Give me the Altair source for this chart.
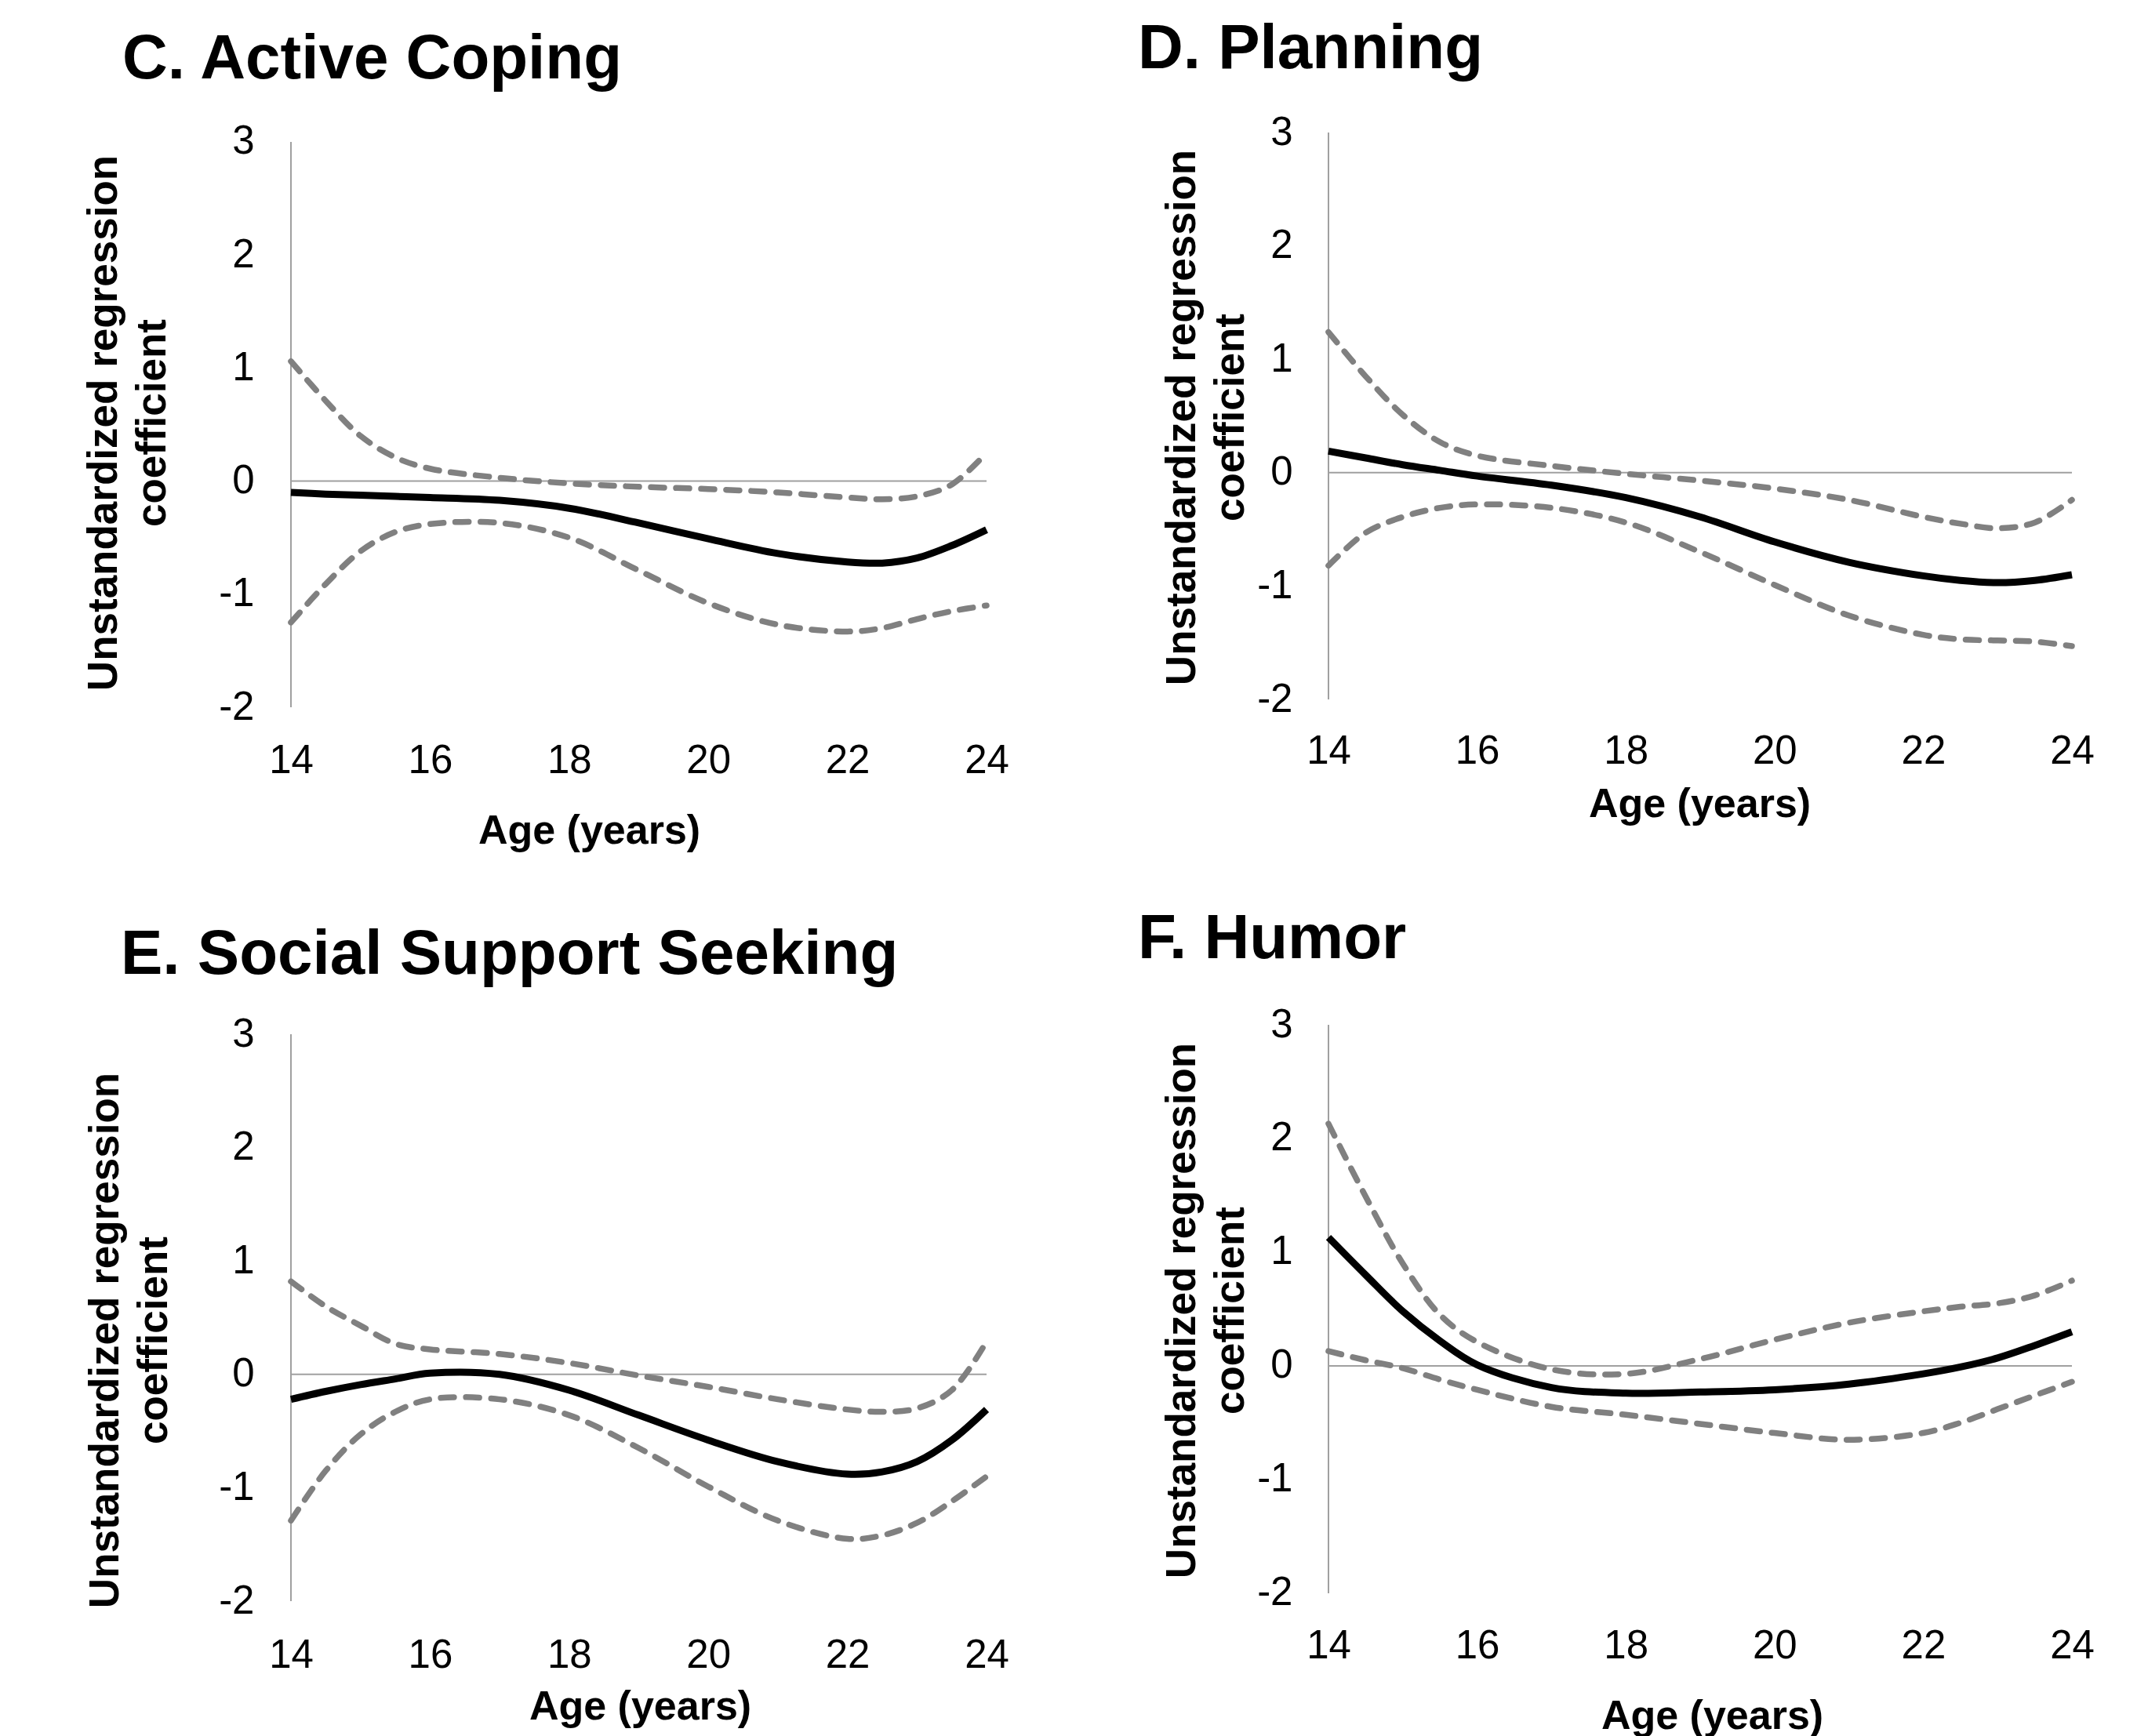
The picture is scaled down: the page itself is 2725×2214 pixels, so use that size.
import altair as alt
import pandas as pd

# ---------------- data ----------------
AGES = [14, 14.5, 15, 15.5, 16, 17, 18, 19, 20, 21, 22, 22.5, 23, 23.5, 24]
X_TICKS = [14, 16, 18, 20, 22, 24]
Y_TICKS = [-2, -1, 0, 1, 2, 3]

TITLES = ["C. Active Coping", "D. Planning", "E. Social Support Seeking", "F. Humor"]
Y_TITLE = ["Unstandardized regression", "coefficient"]
X_TITLE = "Age (years)"

C_EST = [-0.10, -0.115, -0.125, -0.135, -0.145, -0.17, -0.24, -0.37, -0.51, -0.64, -0.715, -0.725, -0.68, -0.57, -0.43]
C_UP = [1.06, 0.71, 0.40, 0.21, 0.11, 0.03, -0.02, -0.05, -0.07, -0.10, -0.145, -0.16, -0.135, -0.03, 0.25]
C_LO = [-1.25, -0.91, -0.62, -0.45, -0.38, -0.37, -0.50, -0.79, -1.08, -1.27, -1.33, -1.30, -1.22, -1.15, -1.10]

D_EST = [0.19, 0.13, 0.07, 0.02, -0.03, -0.11, -0.22, -0.39, -0.61, -0.79, -0.91, -0.95, -0.97, -0.95, -0.90]
D_UP = [1.24, 0.85, 0.51, 0.27, 0.15, 0.06, -0.01, -0.07, -0.14, -0.24, -0.39, -0.45, -0.49, -0.44, -0.24]
D_LO = [-0.82, -0.53, -0.39, -0.31, -0.28, -0.31, -0.44, -0.70, -0.99, -1.26, -1.43, -1.47, -1.48, -1.49, -1.53]

E_EST = [-0.22, -0.15, -0.09, -0.04, 0.01, 0.0, -0.14, -0.36, -0.58, -0.77, -0.88, -0.86, -0.77, -0.58, -0.31]
E_UP = [0.82, 0.60, 0.43, 0.27, 0.22, 0.18, 0.10, -0.01, -0.11, -0.22, -0.31, -0.33, -0.30, -0.14, 0.29]
E_LO = [-1.29, -0.85, -0.53, -0.33, -0.22, -0.22, -0.36, -0.65, -0.99, -1.29, -1.45, -1.42, -1.31, -1.12, -0.90]

F_EST = [1.13, 0.80, 0.48, 0.22, 0.01, -0.19, -0.24, -0.23, -0.21, -0.16, -0.07, -0.01, 0.07, 0.18, 0.30]
F_UP = [2.13, 1.49, 0.90, 0.45, 0.21, -0.03, -0.07, 0.06, 0.23, 0.38, 0.48, 0.52, 0.55, 0.62, 0.75]
F_LO = [0.13, 0.05, -0.02, -0.12, -0.21, -0.36, -0.43, -0.51, -0.59, -0.65, -0.59, -0.50, -0.38, -0.26, -0.14]

FONT = "Liberation Sans"
AXIS_GRAY = "#A0A0A0"
CI_GRAY = "#808080"
LABEL_EXPR = "'' + datum.value"


def panel(title, est, up, lo, width, height, ydomain, lay):
    xs = alt.Scale(domain=[14, 24], nice=False, zero=False)
    ys = alt.Scale(domain=ydomain, nice=False, zero=False)
    xaxis = alt.Axis(
        values=X_TICKS, title=X_TITLE, domain=False, ticks=False, tickSize=0, grid=False,
        labelExpr=LABEL_EXPR, labelFlush=False, labelFontSize=51, labelFont=FONT,
        labelColor="black", labelPadding=lay["xpad"], titleFont=FONT, titleFontSize=52,
        titleFontWeight="bold", titleColor="black", titleX=lay["xtx"], titleY=lay["xty"],
        titleBaseline="alphabetic", titleAlign="center",
    )
    yaxis = alt.Axis(
        values=Y_TICKS, title=Y_TITLE, domain=False, ticks=False, tickSize=0, grid=False,
        labelExpr=LABEL_EXPR, labelFontSize=51, labelFont=FONT, labelColor="black",
        labelPadding=lay["ypad"], titleFont=FONT, titleFontSize=53, titleFontWeight="bold",
        titleColor="black", titleX=lay["ytx"], titleY=lay["yty"], titleBaseline="bottom",
        titleAlign="center", titleLineHeight=62,
    )
    frame_df = pd.DataFrame({"age": [14], "value": [Y_TICKS[0]], "value2": [Y_TICKS[-1]]})
    zero_df = pd.DataFrame({"age": [X_TICKS[0]], "age2": [X_TICKS[-1]], "value": [0]})
    est_df = pd.DataFrame({"age": AGES, "value": est})
    ci_df = pd.DataFrame({
        "age": AGES + AGES,
        "value": up + lo,
        "bound": ["upper"] * len(AGES) + ["lower"] * len(AGES),
    })

    yaxis_line = alt.Chart(frame_df).mark_rule(color=AXIS_GRAY, strokeWidth=2).encode(
        x=alt.X("age:Q", scale=xs, axis=xaxis),
        y=alt.Y("value:Q", scale=ys, axis=yaxis),
        y2="value2:Q",
    )
    zero_line = alt.Chart(zero_df).mark_rule(color=AXIS_GRAY, strokeWidth=2).encode(
        x="age:Q", x2="age2:Q", y="value:Q"
    )
    ci = alt.Chart(ci_df).mark_line(
        color=CI_GRAY, strokeWidth=7.5, strokeDash=[17, 15], strokeCap="round",
        interpolate="catmull-rom",
    ).encode(x="age:Q", y="value:Q", detail="bound:N")
    line = alt.Chart(est_df).mark_line(
        color="black", strokeWidth=9, interpolate="catmull-rom"
    ).encode(x="age:Q", y="value:Q")

    return alt.layer(yaxis_line, zero_line, ci, line).properties(
        width=width, height=height,
        title=alt.TitleParams(
            text=title, anchor="start", frame="group", font=FONT, fontSize=80,
            fontWeight="bold", color="black", baseline="alphabetic",
            offset=lay["toff"], dx=lay["tdx"],
        ),
    )


pC = panel(TITLES[0], C_EST, C_UP, C_LO, 887, 733, [-2, 3.083],
           dict(xpad=43, xtx=380, xty=173, ypad=47, ytx=-212, yty=370, toff=-25, tdx=-215))
pD = panel(TITLES[1], D_EST, D_UP, D_LO, 948, 733, [-2.069, 3],
           dict(xpad=31, xtx=473, xty=139, ypad=46, ytx=-160, yty=363, toff=-24, tdx=-243))
pE = panel(TITLES[2], E_EST, E_UP, E_LO, 887, 735, [-2, 3.083],
           dict(xpad=44, xtx=445, xty=150, ypad=47, ytx=-210, yty=402, toff=-29, tdx=-217))
pF = panel(TITLES[3], F_EST, F_UP, F_LO, 948, 735, [-2.069, 3],
           dict(xpad=32, xtx=489, xty=162, ypad=46, ytx=-160, yty=364, toff=-21, tdx=-243))

chart = alt.concat(
    pC, pD, pE, pF, columns=2, spacing={"row": 405, "column": 436},
    bounds="flush", align="each",
).configure_view(strokeWidth=0).properties(
    padding={"left": 97, "top": 15, "right": 10, "bottom": 10},
    background="white",
)

chart.save("out.html", embed_options={"renderer": "svg", "actions": False})
